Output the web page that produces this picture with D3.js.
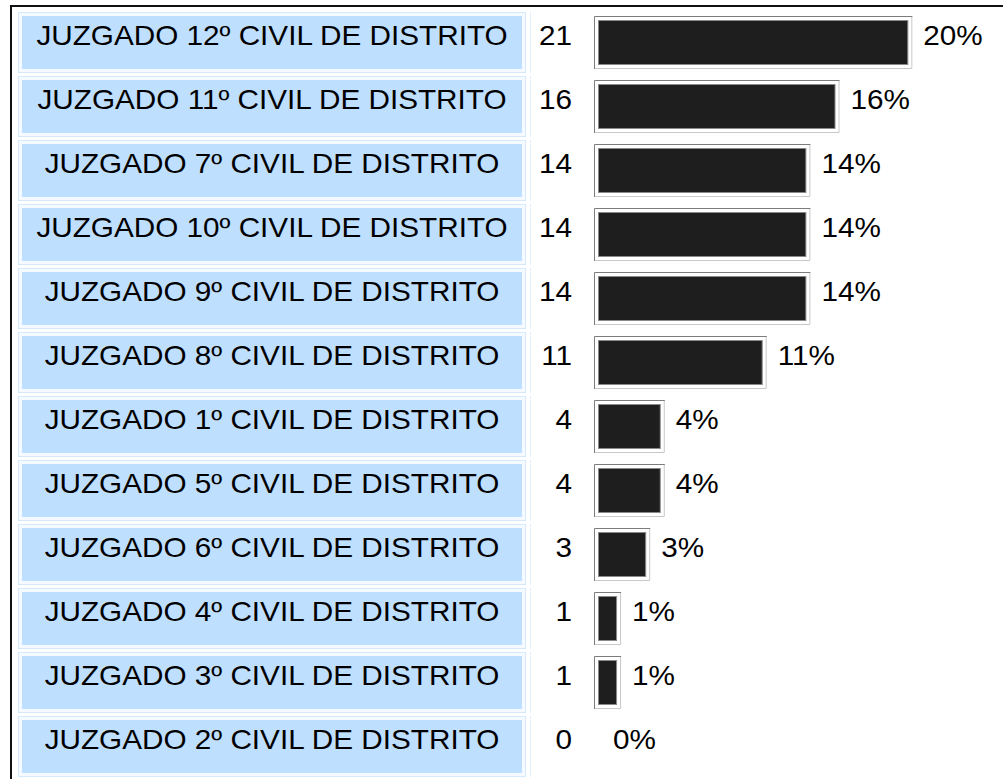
<!DOCTYPE html>
<html>
<head>
<meta charset="utf-8">
<script src="https://cdn.jsdelivr.net/npm/d3@7"></script>
<style>
  body { margin: 0; background: #fff; }
  text { font-family: "Liberation Sans", Arial, sans-serif; font-size: 27px; fill: #000; }
</style>
</head>
<body>
<div id="chart"></div>
<script>
// juzgados, ordered as in the table
var juzgados = [
  "JUZGADO 12º CIVIL DE DISTRITO",
  "JUZGADO 11º CIVIL DE DISTRITO",
  "JUZGADO 7º CIVIL DE DISTRITO",
  "JUZGADO 10º CIVIL DE DISTRITO",
  "JUZGADO 9º CIVIL DE DISTRITO",
  "JUZGADO 8º CIVIL DE DISTRITO",
  "JUZGADO 1º CIVIL DE DISTRITO",
  "JUZGADO 5º CIVIL DE DISTRITO",
  "JUZGADO 6º CIVIL DE DISTRITO",
  "JUZGADO 4º CIVIL DE DISTRITO",
  "JUZGADO 3º CIVIL DE DISTRITO",
  "JUZGADO 2º CIVIL DE DISTRITO"
];
var cantidades = [21, 16, 14, 14, 14, 11, 4, 4, 3, 1, 1, 0];

var total = d3.sum(cantidades);
var sx = 1.1; // text is a bit wide in the picture

var svg = d3.select("#chart")
  .append("svg")
  .attr("width", 1003)
  .attr("height", 779);

// outer frame of the table
svg.append("rect")
  .attr("x", 11).attr("y", 6)
  .attr("width", 1100).attr("height", 900)
  .attr("fill", "none")
  .attr("stroke", "#111")
  .attr("stroke-width", 2);

var y = d3.scaleBand()
  .domain(juzgados)
  .range([12, 12 + 64 * juzgados.length]);

// percent -> px
var x = d3.scaleLinear().domain([0, 100]).range([0, 1500]);
var barX = 594;

function pct(v) { return v / total * 100; }
function barW(v) { return v > 0 ? x(pct(v)) + 12.5 : 0; }

var rows = svg.selectAll("g.row")
  .data(juzgados.map(function(d, i) { return {name: d, value: cantidades[i]}; }))
  .enter().append("g")
  .attr("class", "row")
  .attr("transform", function(d) { return "translate(0," + y(d.name) + ")"; });

// label cell
rows.append("rect")
  .attr("x", 18.5).attr("y", 0.5)
  .attr("width", 507).attr("height", 60)
  .attr("fill", "#f4faff")
  .attr("stroke", "#d6eafd");
rows.append("rect")
  .attr("x", 22).attr("y", 4)
  .attr("width", 500).attr("height", 53)
  .attr("fill", "#bfdfff");
rows.append("line")
  .attr("x1", 530.5).attr("x2", 530.5)
  .attr("y1", 0).attr("y2", 61)
  .attr("stroke", "#e3f1ff");

rows.append("text")
  .attr("transform", "translate(272,33) scale(" + sx + ",1)")
  .attr("text-anchor", "middle")
  .text(function(d) { return d.name; });

// count
rows.append("text")
  .attr("transform", "translate(572,33) scale(" + sx + ",1)")
  .attr("text-anchor", "end")
  .text(function(d) { return d.value; });

// bars (bevelled box like the old table images)
var bars = rows.filter(function(d) { return d.value > 0; });
bars.append("rect")
  .attr("x", barX).attr("y", 4)
  .attr("width", function(d) { return barW(d.value); })
  .attr("height", 53)
  .attr("fill", "#fff");
// light bottom/right edge
bars.append("path")
  .attr("d", function(d) {
    var w = barW(d.value);
    return "M" + (barX + w - 0.5) + ",4 V56.5 H" + barX;
  })
  .attr("fill", "none")
  .attr("stroke", "#c8c8c8");
// dark top/left edge
bars.append("path")
  .attr("d", function(d) {
    var w = barW(d.value);
    return "M" + (barX + 0.5) + ",57 V4.5 H" + (barX + w);
  })
  .attr("fill", "none")
  .attr("stroke", "#7c7c7c");
bars.append("rect")
  .attr("x", barX + 4.5).attr("y", 8.5)
  .attr("width", function(d) { return barW(d.value) - 9; })
  .attr("height", 44)
  .attr("fill", "#1e1e1e")
  .attr("stroke", "#8a8a8a");

// percent label
rows.append("text")
  .attr("transform", function(d) {
    var px = d.value > 0 ? barX + barW(d.value) + 11 : barX + 19;
    return "translate(" + px + ",33) scale(" + sx + ",1)";
  })
  .text(function(d) { return Math.round(pct(d.value)) + "%"; });
</script>
</body>
</html>
